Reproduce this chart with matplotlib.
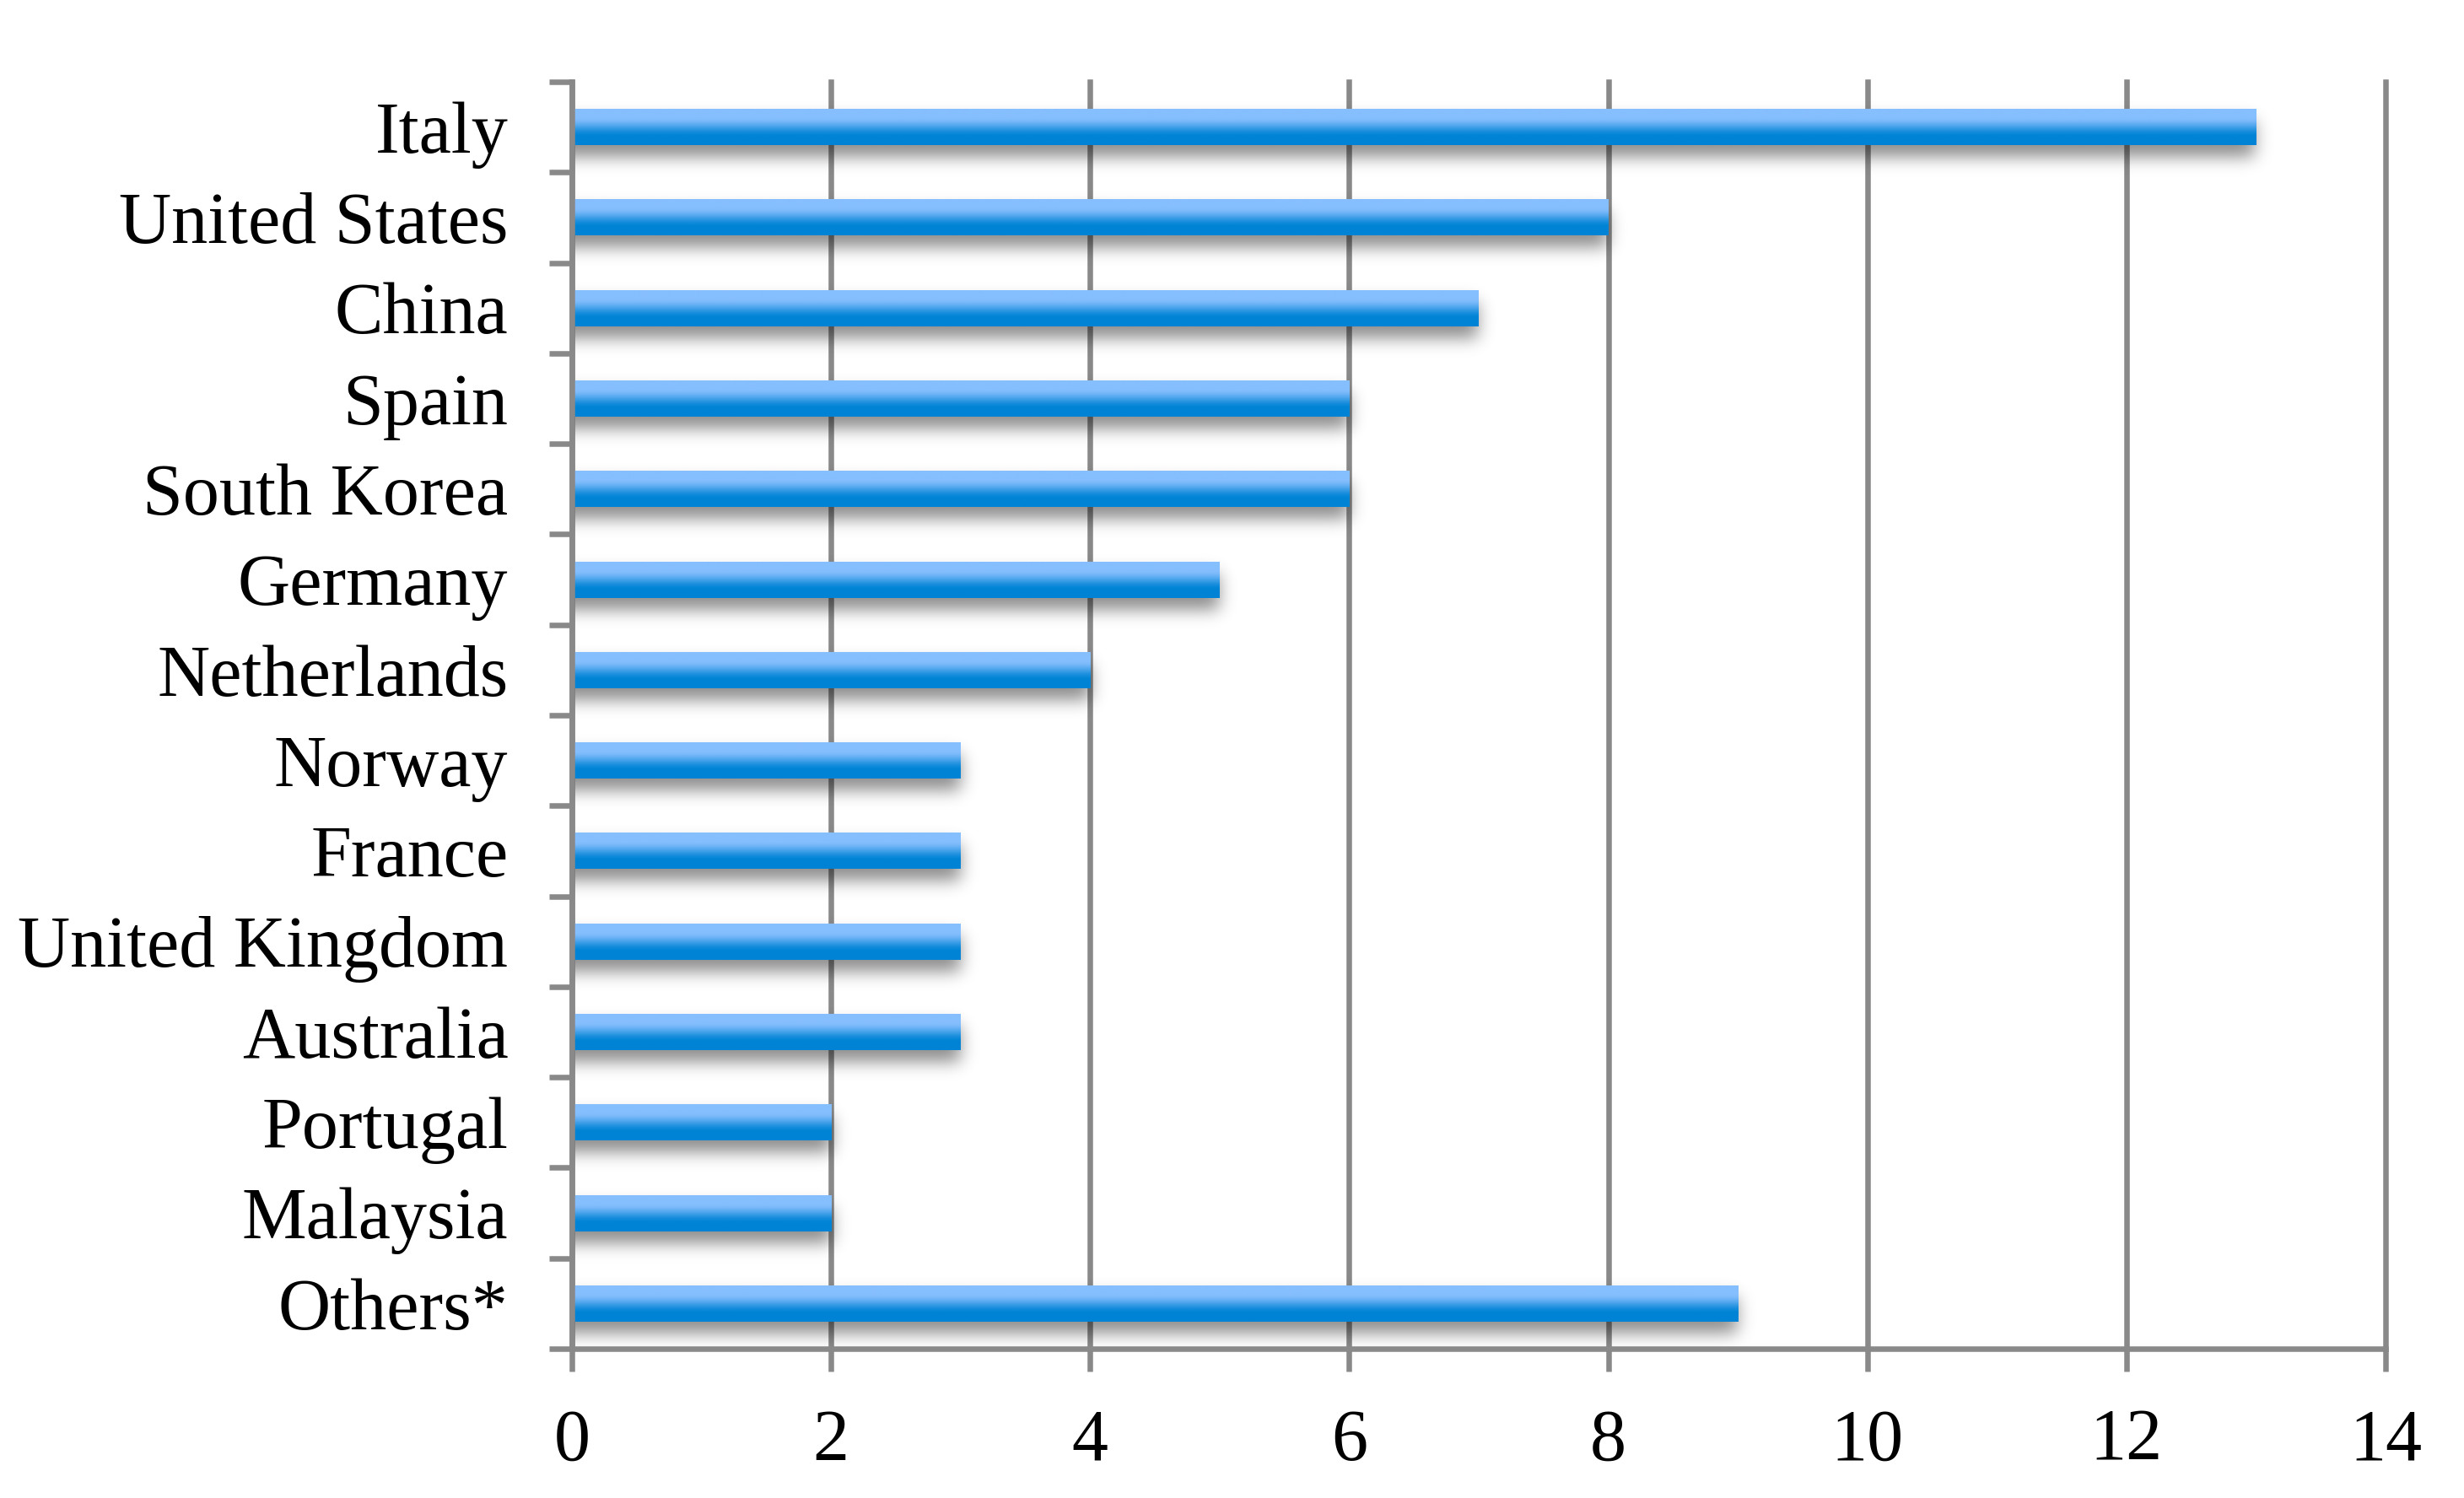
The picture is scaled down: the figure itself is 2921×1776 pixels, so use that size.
import math
import numpy as np
import matplotlib
matplotlib.use("Agg")
import matplotlib.pyplot as plt
from matplotlib.ticker import FixedLocator

countries = ["Italy", "United States", "China", "Spain", "South Korea", "Germany",
             "Netherlands", "Norway", "France", "United Kingdom", "Australia",
             "Portugal", "Malaysia", "Others*"]
values = [13, 8, 7, 6, 6, 5, 4, 3, 3, 3, 3, 2, 2, 9]
xticks = [0, 2, 4, 6, 8, 10, 12, 14]

plt.rcParams['font.family'] = ['Liberation Serif', 'DejaVu Serif']

W, H, DPI = 2921, 1776, 100
fig = plt.figure(figsize=(W / DPI, H / DPI), dpi=DPI)
L, R, T, B = 678, 2828, 97, 1599
ax = fig.add_axes([L / W, (H - B) / H, (R - L) / W, (B - T) / H])

grey = "#898989"
lw = 4.7
ypos = np.arange(len(countries))
bar_h = 0.4

ax.set_xlim(0, 14)
ax.set_ylim(len(countries) - 0.5, -0.5)

bars = ax.barh(ypos, values, height=bar_h, color="none", edgecolor="none", zorder=3)
ax.set_xlim(0, 14)
ax.set_ylim(len(countries) - 0.5, -0.5)

# pixel scale
px_x = (R - L) / 14.0
px_y = (B - T) / len(countries)

erf = np.vectorize(math.erf)

# gradient for bars
n = 200
t = np.linspace(0, 1, n)
top = np.array([134, 191, 254]) / 255
bot = np.array([0, 131, 213]) / 255
s = np.clip((t - 0.22) / 0.56, 0, 1)
s = s * s * (3 - 2 * s)
grad = (top[None, :] * (1 - s)[:, None] + bot[None, :] * s[:, None])
grad_img = np.repeat(grad[:, None, :], 2, axis=1)

off = 14.0
sig = 14.0
amp = 0.45
for rect in bars:
    x0 = rect.get_x()
    w = rect.get_width()
    y0 = rect.get_y()
    h = rect.get_height()
    # shadow: blurred rectangle offset downward (in pixel units)
    bar_top_px = 0.0
    bar_bot_px = h * px_y
    ext_top = -15.0
    ext_bot = bar_bot_px + 45.0
    ys = np.linspace(ext_top, ext_bot, 160)
    P = 0.5 * (erf((ys - (bar_top_px + off)) / sig) - erf((ys - (bar_bot_px + off)) / sig))
    end_px = w * px_x
    xs_px = np.linspace(0, end_px + 40.0, 400)
    Q = 0.5 * (1 - erf((xs_px - end_px) / sig))
    alpha = amp * P[:, None] * Q[None, :]
    img = np.zeros((len(ys), len(xs_px), 4))
    img[..., 3] = alpha
    ax.imshow(img, extent=(x0, x0 + (end_px + 40.0) / px_x,
                           y0 + ext_bot / px_y, y0 + ext_top / px_y),
              origin="upper", aspect="auto", zorder=2, interpolation="bilinear")
    # bar gradient
    ax.imshow(grad_img, extent=(x0, x0 + w, y0 + h, y0), origin="upper",
              aspect="auto", zorder=3, interpolation="bilinear")

ax.set_xlim(0, 14)
ax.set_ylim(len(countries) - 0.5, -0.5)

for side in ["top", "right"]:
    ax.spines[side].set_visible(False)
for side in ["left", "bottom"]:
    ax.spines[side].set_color(grey)
    ax.spines[side].set_linewidth(lw)
    ax.spines[side].set_zorder(4)

ax.set_xticks(xticks)
ax.set_xticklabels([str(x) for x in xticks])
ax.xaxis.grid(True, color=grey, linewidth=lw, zorder=1)
ax.set_axisbelow(True)
for gl in ax.get_xgridlines():
    gl.set_clip_on(False)

ax.set_yticks(ypos)
ax.set_yticklabels(countries)
ax.yaxis.set_minor_locator(FixedLocator(np.arange(-0.5, len(countries), 1.0)))

ax.tick_params(axis="y", which="major", length=0, pad=35 + 19.4, labelsize=62)
ax.tick_params(axis="y", which="minor", length=19.4, width=lw, color=grey)
ax.tick_params(axis="x", which="major", length=19.4, width=lw, color=grey,
               pad=32, labelsize=62)

fig.savefig("out.png", dpi=DPI, facecolor="white")
